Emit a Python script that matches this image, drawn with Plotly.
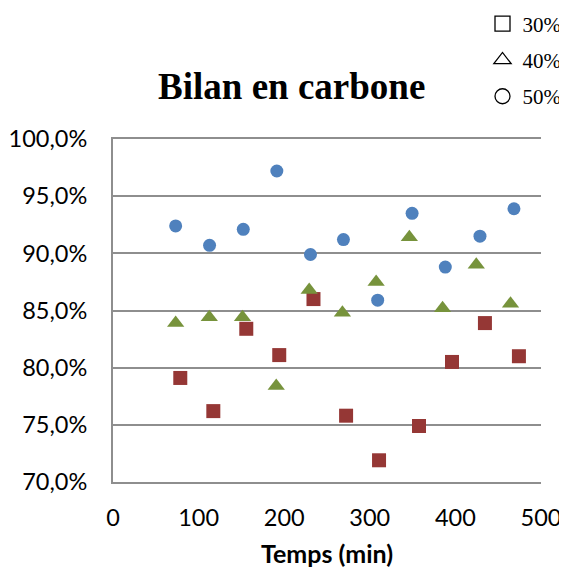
import plotly.graph_objects as go

# Data (Temps in min, bilan in %)
t_30 = [78.6, 117.2, 155.7, 194.2, 234.2, 272.3, 310.8, 357.5, 396.0, 434.5, 474.2]
v_30 = [79.1, 76.2, 83.4, 81.1, 86.0, 75.8, 71.9, 74.9, 80.5, 83.9, 81.0]

t_40 = [73.2, 112.5, 151.3, 190.7, 229.2, 268.0, 307.4, 346.2, 385.0, 424.4, 464.4]
v_40 = [83.9, 84.4, 84.4, 78.4, 86.8, 84.8, 87.5, 91.4, 85.2, 89.0, 85.6]

t_50 = [73.2, 112.8, 152.2, 191.4, 230.7, 269.2, 309.2, 349.4, 388.2, 428.7, 468.4]
v_50 = [92.4, 90.7, 92.1, 97.2, 89.9, 91.2, 85.9, 93.5, 88.8, 91.5, 93.9]

series_names = ["30% eau", "40% eau", "50% eau"]
y_tickvals = [70, 75, 80, 85, 90, 95, 100]
y_ticktext = ["70,0%", "75,0%", "80,0%", "85,0%", "90,0%", "95,0%", "100,0%"]
x_tickvals = [0, 100, 200, 300, 400, 500]

GRID = "#8e8e8e"
TICKFONT = dict(family="Lato", size=23.5, color="#000000")

# the page body adds an 8px offset, so the figure is 8px smaller on each axis
W, H = 559, 561

fig = go.Figure()

fig.add_trace(go.Scatter(x=t_30, y=v_30, mode="markers", showlegend=False,
                         marker=dict(symbol="square", size=14, color="#953735", line=dict(width=0))))
fig.add_trace(go.Scatter(x=t_40, y=v_40, mode="markers", showlegend=False,
                         marker=dict(symbol="triangle-up", size=15, color="#77933C", line=dict(width=0))))
fig.add_trace(go.Scatter(x=t_50, y=v_50, mode="markers", showlegend=False,
                         marker=dict(symbol="circle", size=13, color="#4F81BD", line=dict(width=0))))

# legend-only entries (open black symbols)
for name, sym, grp in zip(series_names, ["square-open", "triangle-up-open", "circle-open"], ["a", "b", "c"]):
    fig.add_trace(go.Scatter(x=[None], y=[None], mode="markers", name=name, legendgroup=grp,
                             marker=dict(symbol=sym, size=15, color="#000000", line=dict(width=1.3))))

fig.update_layout(
    width=W, height=H,
    margin=dict(l=105, r=26, t=131, b=87, autoexpand=False),
    paper_bgcolor="white", plot_bgcolor="white",
    title=dict(text="<b>Bilan en carbone</b>", xref="container", yref="container",
               x=283.7 / W, xanchor="center", y=1 - 78 / H, yanchor="middle",
               font=dict(family="Liberation Serif", size=37, color="#000000")),
    legend=dict(x=(474.5 - 105) / 428, xanchor="left", y=1 + 135.5 / 343, yanchor="top",
                font=dict(family="Liberation Serif", size=21, color="#000000"),
                tracegroupgap=6, bgcolor="rgba(0,0,0,0)", itemwidth=30),
    showlegend=True,
)

fig.update_xaxes(range=[0, 500], tickvals=x_tickvals, showgrid=False, zeroline=False,
                 showline=True, linecolor=GRID, linewidth=2, mirror=True, ticks="",
                 ticklabelstandoff=14, tickfont=TICKFONT,
                 title=dict(text="<b>Temps (min)</b>", standoff=15,
                            font=dict(family="Lato", size=25, color="#000000")))
fig.update_yaxes(range=[70, 100], tickvals=y_tickvals, ticktext=y_ticktext, showgrid=True,
                 gridcolor=GRID, gridwidth=2, zeroline=False, showline=True, linecolor=GRID,
                 linewidth=2, ticks="", ticklabelstandoff=19, tickfont=TICKFONT)

fig.write_html("out.html")
